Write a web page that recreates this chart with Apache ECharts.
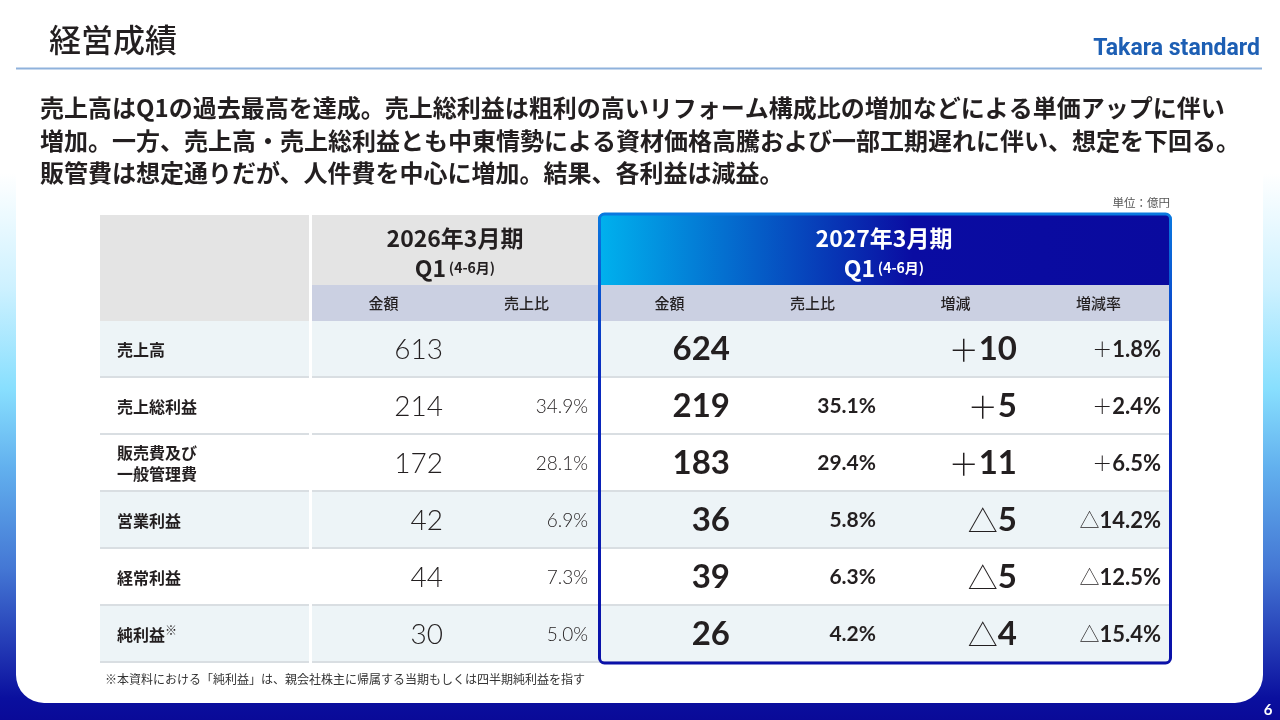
<!DOCTYPE html>
<html>
<head>
<meta charset="utf-8">
<script src="https://cdn.jsdelivr.net/npm/echarts@6/dist/echarts.min.js"></script>
<style>
html,body{margin:0;padding:0;background:#fff;}
#main{width:1280px;height:720px;}
</style>
</head>
<body>
<div id="main"></div>
<script>
// 経営成績 テーブル（custom series で各セルを描く）
var rowNames = ['売上高', '売上総利益', '販売費及び\n一般管理費', '営業利益', '経常利益', '純利益'];
var rowNote = [false, false, false, false, false, true];
var rowShaded = [true, false, false, true, false, true];
var colNames = ['金額', '売上比', '金額', '売上比', '増減', '増減率'];
var prevAmount = [613, 214, 172, 42, 44, 30];
var prevRatio = [null, 34.9, 28.1, 6.9, 7.3, 5.0];
var currAmount = [624, 219, 183, 36, 39, 26];
var currRatio = [null, 35.1, 29.4, 5.8, 6.3, 4.2];
var diffAmount = [10, 5, 11, -5, -5, -4];
var diffRate = [1.8, 2.4, 6.5, -14.2, -12.5, -15.4];
var prevTitle = ['2026年3月期', 'Q1', '(4-6月)'];
var currTitle = ['2027年3月期', 'Q1', '(4-6月)'];
var headline = [
    '売上高はQ1の過去最高を達成。売上総利益は粗利の高いリフォーム構成比の増加などによる単価アップに伴い',
    '増加。一方、売上高・売上総利益とも中東情勢による資材価格高騰および一部工期遅れに伴い、想定を下回る。',
    '販管費は想定通りだが、人件費を中心に増加。結果、各利益は減益。'
];
var footNote = '※本資料における「純利益」は、親会社株主に帰属する当期もしくは四半期純利益を指す';

var JP = '"Noto Sans CJK JP", "Noto Sans", sans-serif';
var NUM_LIGHT = 'Lato, "Noto Sans", sans-serif';
var NUM_BOLD = 'Lato, sans-serif';
var INK = '#231f20';

// レイアウト
var tblLeft = 100, labelW = 209, gap = 3, colW = 143;
var headTop = 214, titleH = 71, subH = 36, rowH = 57;
var valLeft = tblLeft + labelW + gap;
var bodyTop = headTop + titleH + subH;
var bodyH = rowH * rowNames.length;
var currLeft = valLeft + colW * 2;
var currW = colW * 4;

function pct(v) { return v == null ? '' : v.toFixed(1) + '%'; }
function signed(v, digits, unit) {
    var s = v < 0 ? '△' : '＋';
    var n = digits ? Math.abs(v).toFixed(digits) : String(Math.abs(v));
    return '{s|' + s + '}{n|' + n + (unit || '') + '}';
}

var valueData = [], valueCells = [];
function addCell(col, row, kind, text) {
    valueData.push([col, row]);
    valueCells.push({ kind: kind, text: text });
}
for (var r = 0; r < rowNames.length; r++) {
    addCell(0, r, 'prevAmt', String(prevAmount[r]));
    addCell(1, r, 'prevRatio', pct(prevRatio[r]));
    addCell(2, r, 'currAmt', String(currAmount[r]));
    addCell(3, r, 'currRatio', pct(currRatio[r]));
    addCell(4, r, 'diff', signed(diffAmount[r]));
    addCell(5, r, 'rate', signed(diffRate[r], 1, '%'));
}
var labelData = rowNames.map(function (n, i) { return [0, i]; });

var cellStyle = {
    prevAmt: { pad: 12, style: { fontFamily: NUM_LIGHT, fontWeight: 300, fontSize: 28 } },
    prevRatio: { pad: 10, style: { fontFamily: NUM_LIGHT, fontWeight: 300, fontSize: 19 } },
    currAmt: { pad: 11, style: { fontFamily: NUM_BOLD, fontWeight: 'bold', fontSize: 33 } },
    currRatio: { pad: 8, style: { fontFamily: NUM_BOLD, fontWeight: 'bold', fontSize: 21 } },
    diff: { pad: 10, rich: {
        s: { fontFamily: JP, fontWeight: 300, fontSize: 30, fill: INK },
        n: { fontFamily: NUM_BOLD, fontWeight: 'bold', fontSize: 33, fill: INK } } },
    rate: { pad: 9, rich: {
        s: { fontFamily: JP, fontWeight: 300, fontSize: 20, fill: INK },
        n: { fontFamily: NUM_BOLD, fontWeight: 'bold', fontSize: 22, fill: INK } } }
};

function cellBox(api) {
    var c = api.coord([api.value(0), api.value(1)]);
    var s = api.size([1, 1]);
    return { x: c[0] - s[0] / 2, y: c[1] - s[1] / 2, w: s[0], h: s[1], cy: c[1] };
}
function cellBg(b, row) {
    return [
        { type: 'rect', shape: { x: b.x, y: b.y, width: b.w, height: b.h },
          style: { fill: rowShaded[row] ? '#edf4f7' : '#ffffff' } },
        { type: 'rect', shape: { x: b.x, y: b.y + b.h - 2, width: b.w, height: 2 },
          style: { fill: '#d9dee2' } }
    ];
}

function renderLabelCell(params, api) {
    var row = api.value(1);
    var b = cellBox(api);
    var children = cellBg(b, row);
    children.push({
        type: 'text', x: b.x + 17, y: b.cy,
        style: {
            text: rowNote[row] ? '{t|' + rowNames[row] + '}{m|※}' : rowNames[row],
            fontFamily: JP, fontWeight: 'bold', fontSize: 16, lineHeight: 21, fill: INK,
            align: 'left', verticalAlign: 'middle', textAlign: 'left', textVerticalAlign: 'middle',
            rich: {
                t: { fontFamily: JP, fontWeight: 'bold', fontSize: 16, fill: INK },
                m: { fontFamily: JP, fontWeight: 'bold', fontSize: 12, fill: INK, verticalAlign: 'top' }
            }
        }
    });
    return { type: 'group', children: children };
}

function renderValueCell(params, api) {
    var row = api.value(1);
    var b = cellBox(api);
    var cell = valueCells[params.dataIndex];
    var st = cellStyle[cell.kind];
    var children = cellBg(b, row);
    var ts = { text: cell.text, fill: INK, align: 'right', verticalAlign: 'middle',
               textAlign: 'right', textVerticalAlign: 'middle' };
    if (st.style) { for (var k in st.style) ts[k] = st.style[k]; }
    if (st.rich) ts.rich = st.rich;
    children.push({ type: 'text', x: b.x + b.w - st.pad, y: b.cy, style: ts });
    return { type: 'group', children: children };
}

function txt(x, y, text, font, extra) {
    var st = { text: text, fill: INK, fontFamily: JP, align: 'left', verticalAlign: 'middle',
               textAlign: 'left', textVerticalAlign: 'middle' };
    for (var k in font) st[k] = font[k];
    var el = { type: 'text', x: x, y: y, z: 21, style: st };
    if (extra) for (var e in extra) el[e] = extra[e];
    return el;
}
function periodTitle(cx, title, color) {
    return [
        txt(cx, headTop + 24, title[0], { fontSize: 23, fontWeight: 'bold', fill: color, align: 'center', textAlign: 'center' }),
        txt(cx, headTop + 54, '{q|' + title[1] + '} {p|' + title[2] + '}', {
            align: 'center', textAlign: 'center', fill: color,
            rich: {
                q: { fontFamily: JP, fontWeight: 'bold', fontSize: 23, fill: color },
                p: { fontFamily: JP, fontWeight: 'bold', fontSize: 14, fill: color }
            }
        })
    ];
}

var graphics = [
    { type: 'rect', z: -2, shape: { x: 0, y: 0, width: 1280, height: 720 },
      style: { fill: new echarts.graphic.LinearGradient(0, 0, 0, 1, [
          { offset: 0, color: '#ffffff' }, { offset: 0.24, color: '#ffffff' },
          { offset: 0.4, color: '#cdf1ff' }, { offset: 0.54, color: '#88dffe' },
          { offset: 0.65, color: '#62b0ee' }, { offset: 0.79, color: '#4477d4' },
          { offset: 0.9, color: '#2238b4' }, { offset: 0.97, color: '#0a0f9e' },
          { offset: 1, color: '#0a0a98' }]) } },
    { type: 'rect', z: -1, shape: { x: 16, y: -40, width: 1247, height: 743, r: 28 },
      style: { fill: '#ffffff' } },
    txt(49, 40, '経営成績', { fontSize: 32, fontWeight: 500 }),
    { type: 'rect', z: 1, shape: { x: 16, y: 67.5, width: 1246, height: 2 }, style: { fill: '#8fb2dc' } },
    txt(1260, 49, 'Takara standard', { fontFamily: 'Roboto, sans-serif', fontWeight: 'bold', fontSize: 23,
        fill: '#1d5fb4', align: 'right', textAlign: 'right' }),
    txt(40, 108, headline[0], { fontSize: 24, fontWeight: 'bold' }),
    txt(40, 141, headline[1], { fontSize: 24, fontWeight: 'bold' }),
    txt(40, 173, headline[2], { fontSize: 24, fontWeight: 'bold' }),
    txt(1170, 203, '単位：億円', { fontSize: 11.5, fill: '#555555', align: 'right', textAlign: 'right' }),
    txt(105, 679, footNote, { fontSize: 12, fill: '#333333' }),
    txt(1268, 710, '6', { fontFamily: 'Lato, sans-serif', fontWeight: 'bold', fontSize: 15, fill: '#ffffff',
        align: 'center', textAlign: 'center' }),
    // 見出し
    { type: 'rect', z: 1, shape: { x: tblLeft, y: headTop + 1, width: labelW, height: titleH + subH - 1 },
      style: { fill: '#e4e4e4' } },
    { type: 'rect', z: 1, shape: { x: valLeft, y: headTop + 1, width: colW * 2 + 2, height: titleH - 1 },
      style: { fill: '#e4e4e4' } },
    { type: 'rect', z: 1, shape: { x: valLeft, y: headTop + titleH, width: colW * 2, height: subH },
      style: { fill: '#cbd0e2' } },
    { type: 'rect', z: 1, shape: { x: currLeft, y: headTop + titleH, width: currW, height: subH },
      style: { fill: '#cbd0e2' } },
    { type: 'rect', z: 1, shape: { x: currLeft, y: headTop, width: currW, height: titleH, r: [5, 5, 0, 0] },
      style: { fill: new echarts.graphic.LinearGradient(0, 0, 1, 0, [
          { offset: 0, color: '#00b2ee' }, { offset: 0.55, color: '#0a0ca2' }, { offset: 1, color: '#0a0a9e' }]) } },
    { type: 'rect', z: 20, shape: { x: currLeft + 1.5, y: headTop, width: currW - 1, height: titleH + subH + bodyH, r: 5 },
      style: { fill: 'none', lineWidth: 3, stroke: new echarts.graphic.LinearGradient(0, 0, 0, 1, [
          { offset: 0, color: '#0a7ae0' }, { offset: 0.35, color: '#0a2cc0' }, { offset: 1, color: '#0a10a8' }]) } }
].concat(periodTitle(valLeft + colW, prevTitle, INK))
 .concat(periodTitle(currLeft + currW / 2, currTitle, '#ffffff'));

var chart = echarts.init(document.getElementById('main'));
var option = {
    animation: false,
    backgroundColor: '#ffffff',
    grid: [
        { left: tblLeft, top: bodyTop, width: labelW, height: bodyH, show: false },
        { left: valLeft, top: bodyTop, width: colW * 6, height: bodyH, show: false }
    ],
    xAxis: [
        { gridIndex: 0, type: 'category', data: ['科目'], show: false },
        { gridIndex: 1, type: 'category', data: colNames, position: 'top', z: 10,
          axisLine: { show: false }, axisTick: { show: false }, splitLine: { show: false },
          axisLabel: { interval: 0, margin: 18, verticalAlign: 'middle', fontFamily: JP,
                       fontWeight: 500, fontSize: 15, color: INK } }
    ],
    yAxis: [
        { gridIndex: 0, type: 'category', data: rowNames, inverse: true, show: false },
        { gridIndex: 1, type: 'category', data: rowNames, inverse: true, show: false }
    ],
    series: [
        { type: 'custom', xAxisIndex: 0, yAxisIndex: 0, z: 2, silent: true,
          renderItem: renderLabelCell, data: labelData },
        { type: 'custom', xAxisIndex: 1, yAxisIndex: 1, z: 2, silent: true,
          renderItem: renderValueCell, data: valueData }
    ],
    graphic: graphics
};
chart.setOption(option);
</script>
</body>
</html>
